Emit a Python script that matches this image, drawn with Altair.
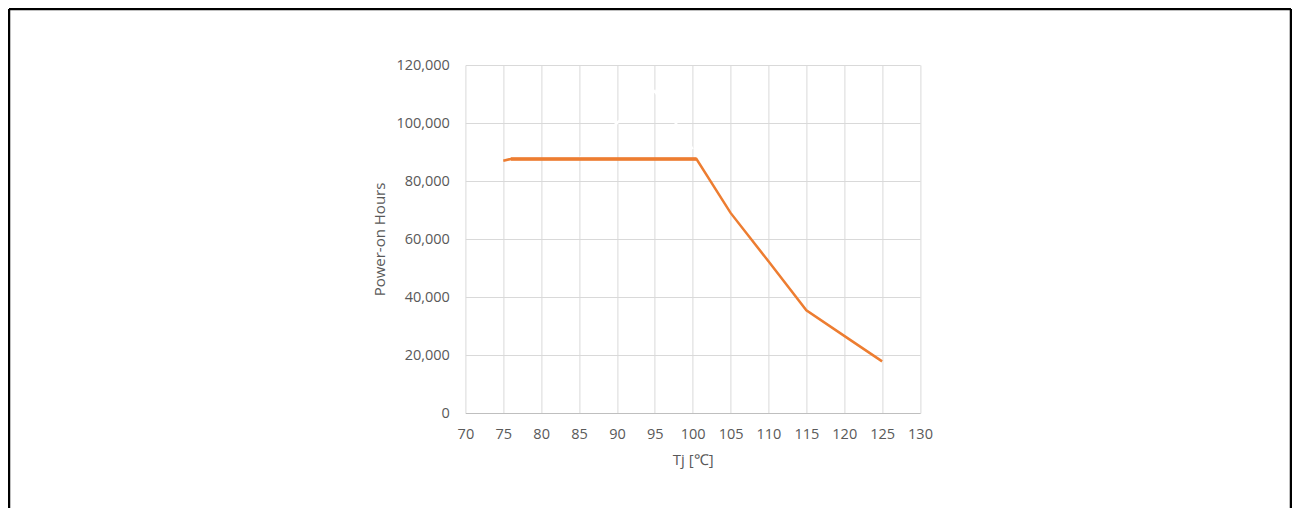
import altair as alt
import pandas as pd

# Main series (Tj in °C, power-on hours)
tj = [75, 76, 100.5, 105, 110, 115, 120, 125]
hours = [87000, 87600, 87600, 69000, 52300, 35400, 26600, 17800]

# Overlapping flat segment (drawn thicker)
flat_tj = [76, 100.5]
flat_hours = [87600, 87600]

# Faint white "ghost" series visible only where it crosses gridlines
ghost_tj = [85, 90, 95, 100]
ghost_hours = [87600, 100000, 111000, 91000]

x_ticks = list(range(70, 131, 5))
y_ticks = list(range(0, 120001, 20000))

W, H = 454.6, 348
PAD_L, PAD_T = 457.4, 57
TOTAL_W, TOTAL_H = 1284, 500

main_df = pd.DataFrame({"tj": tj, "hours": hours})
flat_df = pd.DataFrame({"tj": flat_tj, "hours": flat_hours})
ghost_df = pd.DataFrame({"tj": ghost_tj, "hours": ghost_hours})

FONT = "Open Sans"
GREY = "#595959"

x_enc = alt.X(
    "tj:Q",
    scale=alt.Scale(domain=[70, 130], nice=False, zero=False),
    axis=alt.Axis(values=x_ticks, title="Tj [℃]", labelPadding=14,
                  labelOverlap=False, labelFlush=False, titlePadding=12,
                  domain=True, domainColor="#bfbfbf", ticks=False, grid=True),
)
y_enc = alt.Y(
    "hours:Q",
    scale=alt.Scale(domain=[0, 120000], nice=False),
    axis=alt.Axis(values=y_ticks, format=",d", title="Power-on Hours",
                  labelPadding=16, labelOverlap=False, labelFlush=False,
                  titlePadding=8, domain=False, ticks=False, grid=True),
)

ghost = alt.Chart(ghost_df).mark_line(color="white", strokeWidth=2.5).encode(
    x=x_enc, y=y_enc
)
flat = alt.Chart(flat_df).mark_line(color="#ED7D31", strokeWidth=3.5).encode(
    x=x_enc, y=y_enc
)
main = alt.Chart(main_df).mark_line(color="#ED7D31", strokeWidth=2.5).encode(
    x=x_enc, y=y_enc
)

one = pd.DataFrame({"a": [0]})
left_x = 1 - PAD_L
top_y = 1 - PAD_T
right_x = (TOTAL_W - 1) - PAD_L
bottom_y = TOTAL_H - PAD_T + 10

border_left = alt.Chart(one).mark_rule(color="black", strokeWidth=2.5).encode(
    x=alt.value(left_x), y=alt.value(top_y), y2=alt.value(bottom_y)
)
border_top = alt.Chart(one).mark_rule(color="black", strokeWidth=2.5).encode(
    x=alt.value(left_x), x2=alt.value(right_x), y=alt.value(top_y)
)
border_right = alt.Chart(one).mark_rule(color="black", strokeWidth=2.5).encode(
    x=alt.value(right_x), y=alt.value(top_y), y2=alt.value(bottom_y)
)

chart = (
    alt.layer(ghost, flat, main, border_left, border_top, border_right)
    .properties(
        width=W,
        height=H,
        autosize=alt.AutoSizeParams(type="none"),
        padding={"left": PAD_L, "top": PAD_T,
                 "right": TOTAL_W - PAD_L - W, "bottom": TOTAL_H - PAD_T - H},
        background="white",
    )
    .configure_view(stroke=None)
    .configure_axis(
        labelFont=FONT, labelFontSize=14.5, labelColor=GREY,
        titleFont=FONT, titleFontSize=15, titleFontWeight="normal",
        titleColor=GREY, gridColor="#d9d9d9", gridWidth=1,
    )
)

chart.save("out.html", embed_options={"renderer": "svg", "actions": False})
